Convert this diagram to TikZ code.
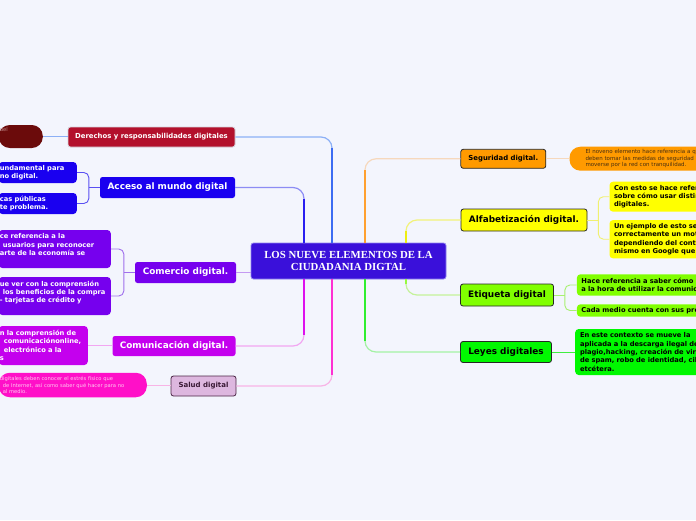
\documentclass[tikz,border=0pt]{standalone}
\usepackage{fontspec}
\setmainfont{DejaVu Sans}
\newfontfamily\titlefont{Liberation Serif}
\usetikzlibrary{positioning,calc}
\definecolor{bgc}{HTML}{F3F5FD}
\definecolor{cCen}{HTML}{3A10DA}
\definecolor{cCenE}{HTML}{8E80EE}
\definecolor{cDer}{HTML}{B3102C}
\definecolor{cDerE}{HTML}{D4D4DC}
\definecolor{cDerK}{HTML}{6B0B0B}
\definecolor{cDerT}{HTML}{C08888}
\definecolor{cAcc}{HTML}{1A00F0}
\definecolor{cCom}{HTML}{7600EE}
\definecolor{cCmu}{HTML}{C400EE}
\definecolor{cSal}{HTML}{DDB7DF}
\definecolor{cSalE}{HTML}{4A2645}
\definecolor{cSalT}{HTML}{3A1A35}
\definecolor{cSalK}{HTML}{FF10C8}
\definecolor{cSalKT}{HTML}{FFC8F0}
\definecolor{cSeg}{HTML}{FF9A00}
\definecolor{cSegT}{HTML}{4A3010}
\definecolor{cAlf}{HTML}{FFFF00}
\definecolor{cEti}{HTML}{80FF00}
\definecolor{cLey}{HTML}{00F800}
% connector colours: light run, strong stem, twig
\definecolor{lDer}{HTML}{8CB0F6}\definecolor{sDer}{HTML}{3C6CF2}
\definecolor{lAcc}{HTML}{8C8CF4}\definecolor{sAcc}{HTML}{2A1EF0}
\definecolor{lCom}{HTML}{C49AF2}
\definecolor{lCmu}{HTML}{F2A6F2}\definecolor{sCmu}{HTML}{DE10EE}
\definecolor{lSal}{HTML}{F8B4E6}\definecolor{sSal}{HTML}{FF30D2}
\definecolor{lSeg}{HTML}{F6D8BC}\definecolor{sSeg}{HTML}{FFA030}
\definecolor{lAlf}{HTML}{F2F27A}\definecolor{sAlf}{HTML}{EEEE10}
\definecolor{lEti}{HTML}{C4F29A}\definecolor{sEti}{HTML}{96FA40}
\definecolor{lLey}{HTML}{A4F2A4}\definecolor{sLey}{HTML}{30EE30}
\definecolor{tAcc}{HTML}{5A50F2}
\definecolor{tCom}{HTML}{A070EC}
\definecolor{tAlf}{HTML}{F0F070}
\definecolor{tEti}{HTML}{A8F070}
\definecolor{tLey}{HTML}{40EE40}

\begin{document}
\begin{tikzpicture}[x=1pt, y=-1pt,
  topic/.style={rounded corners=2.5pt, inner sep=0pt, minimum height=21pt,
                font=\fontsize{8.9}{10}\selectfont\bfseries},
  darkedge/.style={draw=black!85, line width=0.8pt},
  sub/.style={rounded corners=3.5pt, inner xsep=4.5pt, inner ysep=0pt, align=left,
              font=\fontsize{6.7}{8.4}\selectfont\bfseries},
  pill/.style={rounded corners=11pt, inner xsep=1pt, inner ysep=0pt, align=left,
               font=\fontsize{5.2}{6.6}\selectfont},
  link/.style={line width=1.2pt, rounded corners=11pt},
  stem/.style={line width=2.2pt, shorten >=11pt},
  twig/.style={line width=0.9pt, rounded corners=5pt}]
  \useasboundingbox (0,0) rectangle (696,520);
  \clip (0,0) rectangle (696,520);
  \fill[bgc] (0,0) rectangle (696,520);

  % centre
  \node[topic, fill=cCen, draw=cCenE, line width=0.8pt, minimum width=195pt, minimum height=36pt,
        align=center, text=white, font=\titlefont\bfseries\fontsize{10.8}{12}\selectfont]
       (centro) at (348.5,261) {LOS NUEVE ELEMENTOS DE LA\\CIUDADANIA DIGTAL};

  % left topics
  \node[topic, fill=cDer, draw=cDerE, line width=0.8pt, text=white, minimum width=167pt, minimum height=20pt,
        font=\fontsize{6.9}{8}\selectfont\bfseries] (derechos) at (151.5,137) {Derechos y responsabilidades digitales};
  \node[topic, fill=cAcc, text=white, minimum width=135pt] (acceso) at (167.5,187.5) {Acceso al mundo digital};
  \node[topic, fill=cCom, text=white, minimum width=101pt] (comercio) at (185.5,272.5) {Comercio digital.};
  \node[topic, fill=cCmu, text=white, minimum width=123pt, minimum height=20pt] (comunic) at (174,346) {Comunicación digital.};
  \node[topic, darkedge, fill=cSal, draw=cSalE, text=cSalT, minimum width=65pt, minimum height=20pt,
        font=\fontsize{7}{8}\selectfont\bfseries] (salud) at (203.5,386) {Salud digital};

  % right topics
  \node[topic, darkedge, fill=cSeg, minimum width=85pt, minimum height=19pt,
        font=\fontsize{6.9}{8}\selectfont\bfseries] (seguridad) at (503.3,158.8) {Seguridad digital.};
  \node[topic, darkedge, fill=cAlf, minimum width=126pt, minimum height=22pt] (alfab) at (524,220) {Alfabetización digital.};
  \node[topic, darkedge, fill=cEti, minimum width=93pt, minimum height=22pt] (etiqueta) at (507,295) {Etiqueta digital};
  \node[topic, darkedge, fill=cLey, minimum width=91pt, minimum height=21pt] (leyes) at (506,352) {Leyes digitales};

  % left details
  \node[pill, fill=cDerK, text=cDerT, text width=42pt, minimum height=23pt, anchor=east]
       (derechosA) at (43,136.5) {del\\\mbox{}\\\mbox{}};
  \node[sub, inner xsep=1pt, fill=cAcc, text=white, text width=76pt, minimum height=21pt, anchor=east]
       (accesoA) at (77,172.5) {undamental para\\no digital.};
  \node[sub, inner xsep=1pt, fill=cAcc, text=white, text width=76pt, minimum height=21pt, anchor=east]
       (accesoB) at (77,203.5) {cas públicas\\te problema.};
  \node[sub, inner xsep=1pt, fill=cCom, text=white, text width=110pt, minimum height=38pt, anchor=east]
       (comercioA) at (111,249) {ce referencia a la\\\hspace*{3pt}usuarios para reconocer\\arte de la economía se\\\mbox{}};
  \node[sub, inner xsep=1pt, fill=cCom, text=white, text width=110pt, minimum height=38pt, anchor=east]
       (comercioB) at (111,296) {ue ver con la comprensión\\\hspace*{3pt}los beneficios de la compra\\- tarjetas de crédito y\\\mbox{}};
  \node[sub, inner xsep=1pt, fill=cCmu, text=white, text width=87pt, minimum height=39pt, anchor=east]
       (comunicA) at (88,345.5) {n la comprensión de\\\hspace*{4pt}comunicaciónonline,\\\hspace*{4pt}electrónico a la\\s};
  \node[pill, fill=cSalK, text=cSalKT, text width=146pt, minimum height=24.5pt, anchor=east]
       (saludA) at (147,385) {digitales deben conocer el estrés físico que\\\hspace*{3pt}de Internet, así como saber qué hacer para no\\\hspace*{3pt}al medio.};

  % right details
  \node[pill, inner xsep=16pt, fill=cSeg, text=cSegT, text width=200pt, minimum height=24pt, anchor=west,
        font=\fontsize{5.5}{6.6}\selectfont]
       (seguridadA) at (569.3,158.7) {El noveno elemento hace referencia a que\\deben tomar las medidas de seguridad\\moverse por la red con tranquilidad.};
  \node[sub, fill=cAlf, text width=220pt, minimum height=30pt, anchor=west]
       (alfabA) at (609.3,196.7) {Con esto se hace referencia\\sobre cómo usar distintas\\digitales.};
  \node[sub, fill=cAlf, text width=220pt, minimum height=38.3pt, anchor=west]
       (alfabB) at (609.3,239.2) {Un ejemplo de esto sería\\correctamente un motor\\dependiendo del contexto\\mismo en Google que};
  \node[sub, fill=cEti, text width=220pt, minimum height=21.4pt, anchor=west]
       (etiquetaA) at (576.7,285) {Hace referencia a saber cómo\\a la hora de utilizar la comunicación};
  \node[sub, fill=cEti, text width=220pt, minimum height=12.4pt, anchor=west]
       (etiquetaB) at (576.7,310.5) {Cada medio cuenta con sus propias};
  \node[sub, inner xsep=4.8pt, fill=cLey, text width=220pt, minimum height=46pt, anchor=west]
       (leyesA) at (575,352) {En este contexto se mueve la\\aplicada a la descarga ilegal de\\plagio,hacking, creación de virus,\\de spam, robo de identidad, ciberacoso,\\etcétera.};

  % centre to topics
  \coordinate (tDer) at ([xshift=-16.5pt]centro.north);
  \coordinate (tAcc) at ([xshift=-44.5pt]centro.north);
  \coordinate (tSeg) at ([xshift=16.5pt]centro.north);
  \coordinate (tAlf) at ([xshift=57.5pt]centro.north);
  \coordinate (bCmu) at ([xshift=-44.5pt]centro.south);
  \coordinate (bSal) at ([xshift=-16.5pt]centro.south);
  \coordinate (bLey) at ([xshift=16.5pt]centro.south);
  \coordinate (bEti) at ([xshift=57.5pt]centro.south);
  \draw[link, draw=lDer] (tDer) |- (derechos.east);
  \draw[stem, draw=sDer] (tDer) -- (tDer |- derechos.east);
  \draw[link, draw=lAcc] (tAcc) |- (acceso.east);
  \draw[stem, draw=sAcc] (tAcc) -- (tAcc |- acceso.east);
  \draw[link, draw=lCom] (comercio.east) -- (comercio.east -| centro.west);
  \draw[link, draw=lCmu] (bCmu) |- (comunic.east);
  \draw[stem, draw=sCmu] (bCmu) -- (bCmu |- comunic.east);
  \draw[link, draw=lSal] (bSal) |- (salud.east);
  \draw[stem, draw=sSal] (bSal) -- (bSal |- salud.east);
  \draw[link, draw=lSeg] (tSeg) |- (seguridad.west);
  \draw[stem, draw=sSeg] (tSeg) -- (tSeg |- seguridad.west);
  \draw[link, draw=lAlf] (tAlf) |- (alfab.west);
  \draw[stem, draw=sAlf] (tAlf) -- (tAlf |- alfab.west);
  \draw[link, draw=lEti] (bEti) |- (etiqueta.west);
  \draw[stem, draw=sEti] (bEti) -- (bEti |- etiqueta.west);
  \draw[link, draw=lLey] (bLey) |- (leyes.west);
  \draw[stem, draw=sLey] (bLey) -- (bLey |- leyes.west);

  % topics to details
  \coordinate (accJ) at ([xshift=-11pt]acceso.west);
  \coordinate (comJ) at ([xshift=-11pt]comercio.west);
  \coordinate (alfJ) at ([xshift=11pt]alfab.east);
  \coordinate (etiJ) at ([xshift=11pt]etiqueta.east);
  \draw[twig, draw=lDer] (derechosA.east) -- (derechosA.east -| derechos.west);
  \draw[twig, draw=tAcc] (accesoA.east) -| (accJ) |- (accesoB.east);
  \draw[twig, draw=tAcc] (accJ) -- (acceso.west);
  \draw[twig, draw=tCom] (comercioA.east) -| (comJ) |- (comercioB.east);
  \draw[twig, draw=tCom] (comJ) -- (comercio.west);
  \draw[twig, draw=lCmu] (comunicA.east) -- (comunicA.east -| comunic.west);
  \draw[twig, draw=lSal] (saludA.east) -- (saludA.east -| salud.west);
  \draw[twig, draw=lSeg] (seguridad.east) -- (seguridad.east -| seguridadA.west);
  \draw[twig, draw=tAlf] (alfabA.west) -| (alfJ) |- (alfabB.west);
  \draw[twig, draw=tAlf] (alfJ) -- (alfab.east);
  \draw[twig, draw=tEti] (etiquetaA.west) -| (etiJ) |- (etiquetaB.west);
  \draw[twig, draw=tEti] (etiJ) -- (etiqueta.east);
  \draw[twig, draw=tLey] (leyes.east) -- (leyes.east -| leyesA.west);
\end{tikzpicture}
\end{document}
